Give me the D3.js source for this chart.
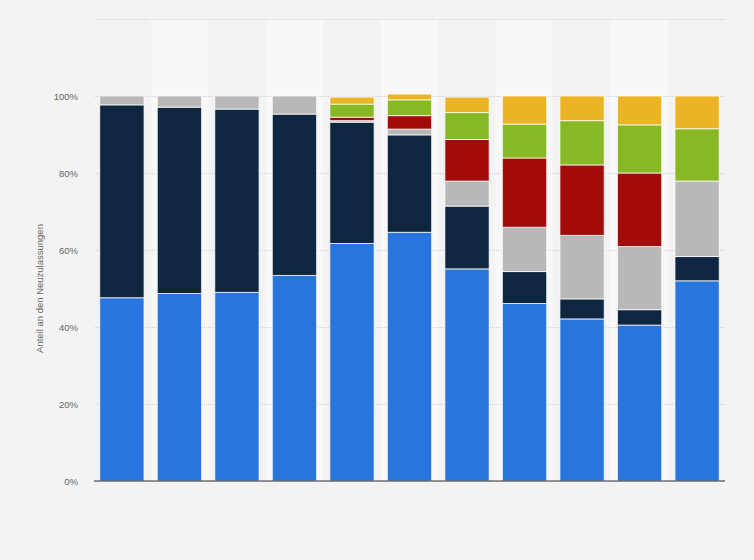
<!DOCTYPE html>
<html>
<head>
<meta charset="utf-8">
<script src="https://cdn.jsdelivr.net/npm/d3@7"></script>
<style>
  body { margin: 0; background: #f3f3f3; }
  svg { display: block; font-family: "Liberation Sans", Arial, sans-serif; }
</style>
</head>
<body>
<svg width="754" height="560"></svg>
<script>
// categories (x labels are not shown in the chart)
var years = ["2012", "2013", "2014", "2015", "2016", "2017", "2018", "2019", "2020", "2021", "2022"];

// share of new registrations, in percent, bottom to top
var benzin   = [47.6, 48.7, 49.0, 53.4, 61.7, 64.6, 55.1, 46.1, 42.1, 40.5, 52.0];
var diesel   = [50.1, 48.4, 47.6, 41.9, 31.5, 25.3, 16.3,  8.3,  5.2,  4.0,  6.3];
var hybrid   = [ 2.3,  2.9,  3.4,  4.7,  0.4,  1.5,  6.5, 11.5, 16.5, 16.4, 19.6];
var mild     = [ 0,    0,    0,    0,    0.9,  3.5, 10.8, 18.0, 18.3, 19.1,  0  ];
var plugin   = [ 0,    0,    0,    0,    3.4,  4.1,  7.0,  8.8, 11.5, 12.5, 13.6];
var elektro  = [ 0,    0,    0,    0,    1.8,  1.5,  4.0,  7.3,  6.4,  7.5,  8.5];

var seriesNames = ["Benzin", "Diesel", "Hybrid", "Mild-Hybrid", "Plug-in-Hybrid", "Elektro"];
var seriesValues = [benzin, diesel, hybrid, mild, plugin, elektro];
var colors = ["#2876dd", "#0f2640", "#b8b8b8", "#a30a0a", "#86b923", "#ebb424"];
var yTicks = [0, 20, 40, 60, 80, 100, 120];

var svg = d3.select("svg");
var margin = {top: 19, right: 29, bottom: 79, left: 94};
var width = 754 - margin.left - margin.right,
    height = 560 - margin.top - margin.bottom;

var g = svg.append("g").attr("transform", "translate(" + margin.left + "," + margin.top + ")");

// build table for the stack
var table = years.map(function(y, i) {
  var row = {year: y};
  seriesNames.forEach(function(s, j) { row[s] = seriesValues[j][i]; });
  return row;
});

var x = d3.scaleBand().domain(years).range([0, width]).paddingInner(0.23).paddingOuter(0.1);
var bands = d3.scaleBand().domain(years).range([0, width]);
var y = d3.scaleLinear().domain([0, 120]).range([height, 0]);

// alternating column shading
g.selectAll(".band")
  .data(years)
  .enter()
  .append("rect")
    .attr("x", function(d) { return bands(d); })
    .attr("y", 0)
    .attr("width", bands.bandwidth())
    .attr("height", height)
    .attr("fill", function(d, i) { return i % 2 ? "#f8f8f8" : "#f3f3f3"; });

// gridlines
g.append("g")
  .call(d3.axisLeft(y).tickValues(yTicks).tickSize(-width).tickFormat(""))
  .call(function(a) {
    a.select(".domain").remove();
    a.selectAll("line").attr("stroke", "#d2d2d2").attr("stroke-dasharray", "1,1");
  });

// y tick labels (top gridline has no label)
g.append("g")
  .call(d3.axisLeft(y).tickValues(yTicks.slice(0, 6)).tickSize(0).tickPadding(16)
    .tickFormat(function(d) { return d + "%"; }))
  .call(function(a) {
    a.select(".domain").remove();
    a.selectAll("text").attr("fill", "#666").attr("font-size", "9.5px");
  });

// stacked bars
var stack = d3.stack().keys(seriesNames)(table);

g.selectAll(".layer")
  .data(stack)
  .enter()
  .append("g")
    .attr("fill", function(d, i) { return colors[i]; })
  .selectAll("rect")
  .data(function(d) { return d.filter(function(p) { return p[1] - p[0] > 0; }); })
  .enter()
  .append("rect")
    .attr("x", function(d) { return x(d.data.year); })
    .attr("y", function(d) { return y(d[1]); })
    .attr("width", x.bandwidth())
    .attr("height", function(d) { return y(d[0]) - y(d[1]); })
    .attr("stroke", "#fff")
    .attr("stroke-opacity", 0.75)
    .attr("stroke-width", 1);

// x axis baseline, no labels
g.append("g")
  .attr("transform", "translate(0," + height + ")")
  .call(d3.axisBottom(x).tickSize(0).tickFormat(""))
  .call(function(a) {
    a.select(".domain").attr("stroke", "#333").attr("stroke-width", 1.2)
      .attr("d", "M0,0H" + width);
  });

// y axis title
svg.append("text")
  .attr("transform", "translate(43," + (margin.top + y(50)) + ") rotate(-90)")
  .attr("text-anchor", "middle")
  .attr("fill", "#666")
  .attr("font-size", "9.5px")
  .text("Anteil an den Neuzulassungen");
</script>
</body>
</html>
